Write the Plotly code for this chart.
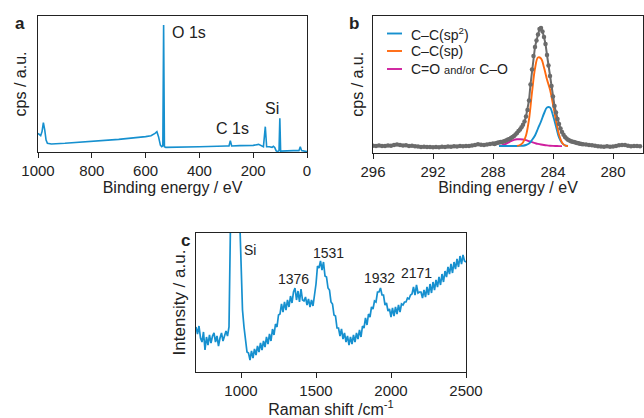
import plotly.graph_objects as go

W, H = 644, 418
FONT = "Liberation Sans, Arial, sans-serif"

# ---------------- Panel a: XPS survey ----------------
survey_be = [1000, 995, 990, 985, 980, 975, 970, 965, 950, 900, 800, 700, 600, 580, 565, 558, 552,
             545, 540, 536, 533, 530, 525, 500, 400, 300, 290, 285, 280, 250, 200, 180, 170, 162,
             155, 150, 140, 130, 125, 120, 115, 110, 104, 101, 98, 80, 50, 30, 25, 20, 10, 0]
survey_cps = [13.7, 12.5, 12.0, 15.0, 21.6, 16.2, 8.8, 6.4, 5.9, 6.4, 7.6, 9.3, 11.3, 12.0, 13.7, 14.9, 11.3,
              5.1, 3.9, 4.5, 93.4, 3.9, 3.4, 3.4, 3.9, 4.4, 4.4, 8.3, 4.4, 4.7, 4.9, 5.6, 4.9, 3.9,
              18.6, 3.9, 3.9, 3.4, 4.2, 3.4, 1.0, 0.2, 1.0, 24.8, 0.7, 1.0, 1.0, 1.0, 3.9, 1.0, 0.5, 0.3]
survey_labels = ["O 1s", "C 1s", "Si"]
survey_label_x = [509, 277, 131]
survey_label_y = [87.5, 17.4, 32.1]

# ---------------- Panel b: C 1s ----------------
c1s_be = [296.0, 295.8, 295.6, 295.4, 295.2, 295.0, 294.8, 294.6, 294.4, 294.2, 294.0, 293.8, 293.6,
          293.4, 293.2, 293.0, 292.8, 292.6, 292.4, 292.2, 292.0, 291.8, 291.6, 291.4, 291.2, 291.0,
          290.8, 290.6, 290.4, 290.2, 290.0, 289.8, 289.6, 289.4, 289.2, 289.0, 288.8, 288.6, 288.4,
          288.2,
          288.0, 287.9, 287.8, 287.7, 287.6, 287.5, 287.4, 287.3, 287.2, 287.1, 287.0, 286.9, 286.8,
          286.7, 286.6, 286.5, 286.4, 286.3, 286.2, 286.1, 286.0, 285.9, 285.8, 285.7, 285.6, 285.5,
          285.4, 285.3, 285.2, 285.1, 285.0, 284.9, 284.8, 284.7, 284.6, 284.5, 284.4, 284.3, 284.2,
          284.1, 284.0, 283.9, 283.8, 283.7, 283.6, 283.5, 283.4, 283.3, 283.2, 283.1, 283.0, 282.9,
          282.8, 282.7, 282.6, 282.5, 282.4, 282.3, 282.2, 282.1, 282.0,
          281.8, 281.6, 281.4, 281.2, 281.0, 280.8, 280.6, 280.4, 280.2, 280.0, 279.8, 279.6, 279.4,
          279.2, 279.0, 278.8, 278.6, 278.4, 278.2]
c1s_cps = [6.8, 6.5, 6.9, 6.4, 6.6, 7.0, 6.8, 7.4, 8.0, 7.6, 7.0, 7.2, 6.6,
           6.8, 6.2, 6.0, 5.6, 5.8, 5.4, 5.6, 5.2, 5.5, 5.3, 5.7, 5.5, 5.9,
           5.7, 6.2, 6.0, 6.4, 6.3, 6.6, 6.5, 7.0, 7.4, 8.2, 7.8, 7.4, 8.0,
           8.4,
           9.0, 8.6, 9.2, 9.8, 10.0, 10.4, 10.6, 11.0, 11.6, 12.2, 12.9, 13.6, 14.4,
           15.4, 16.6, 18.0, 19.6, 21.4, 23.0, 25.2, 27.8, 31.0, 36.0, 42.5, 52.0, 68.0,
           83.0, 96.5, 105.5, 112.0, 118.0, 123.5, 124.5, 121.0, 115.5, 108.5, 97.5, 87.0, 76.5,
           66.5, 56.0, 46.5, 40.0, 33.5, 28.5, 24.0, 20.5, 17.8, 15.5, 14.0, 12.8, 12.0,
           11.3, 10.8, 10.5, 10.0, 9.5, 9.2, 8.8, 8.5, 8.3,
           8.0, 7.6, 7.2, 6.8, 6.2, 6.0, 5.8, 6.2, 5.7, 6.0, 6.6, 7.2, 7.6,
           7.4, 6.8, 6.3, 6.6, 6.4, 6.2]

fit_be = [287.6, 287.4, 287.2, 287.0, 286.8, 286.6, 286.4, 286.2, 286.0, 285.8, 285.6, 285.4,
          285.2, 285.0, 284.8, 284.6, 284.4, 284.2, 284.0, 283.8, 283.6, 283.4, 283.2, 283.0]
sp2_cps = [6.5, 6.5, 6.5, 6.5, 6.5, 6.5, 6.5, 6.6, 6.8, 7.5, 9.0, 12.5,
           17.0, 24.0, 31.0, 39.0, 45.0, 45.0, 37.0, 26.0, 15.0, 9.5, 7.2, 6.5]
sp_cps = [None, None, None, None, None, None, 6.6, 7.5, 10.0, 17.0, 33.0, 60.0,
          84.0, 95.0, 94.0, 85.0, 73.0, 63.0, 48.0, 32.0, 18.0, 10.0, 7.0, 6.5]
co_cps = [6.6, 7.2, 8.3, 9.8, 11.4, 12.6, 13.2, 13.3, 13.0, 12.3, 11.3, 10.3,
          9.4, 8.6, 8.0, 7.5, 7.1, 6.8, 6.6, 6.5, 6.4, 6.4, None, None]
fit_names = ["C\u2013C(sp<sup>2</sup>)", "C\u2013C(sp)",
             "C=O <span style='font-size:11px'>and/or</span> C\u2013O"]

# ---------------- Panel c: Raman ----------------
raman_shift = list(range(700, 2501, 10))
raman_int = [45, 38, 46, 34, 30, 40, 22, 35, 27, 37,
             29, 36, 39, 30, 36, 26, 34, 39, 31, 37,
             41, 36, 45, 150, 300, 330, 340, 320, 260, 160,
             100, 62, 45, 30, 20, 19, 12, 21, 14, 23,
             17, 26, 20, 29, 22, 31, 25, 35, 28, 38,
             31, 43, 37, 48, 45, 57, 58, 68, 60, 70,
             62, 72, 65, 76, 69, 80, 84, 72, 81, 70,
             83, 72, 71, 75, 67, 73, 65, 72, 66, 77,
             88, 106, 104, 111, 102, 110, 96, 95, 84, 82,
             70, 68, 57, 56, 44, 44, 36, 43, 33, 39,
             30, 36, 27, 35, 28, 37, 30, 39, 33, 42,
             35, 46, 44, 54, 47, 58, 55, 65, 63, 71,
             70, 80, 80, 84, 77, 77, 67, 69, 61, 63,
             55, 64, 56, 65, 58, 67, 60, 68, 67, 70,
             70, 74, 73, 77, 78, 85, 77, 87, 79, 80,
             80, 74, 82, 75, 85, 77, 88, 79, 90, 82,
             92, 85, 95, 87, 98, 90, 101, 95, 105, 98,
             108, 99, 110, 103, 113, 105, 116, 108, 117, 111,
             110]
raman_labels = ["Si", "1376", "1531", "1932", "2171"]
raman_label_x = [1060, 1349, 1582, 1922, 2167]
raman_label_y = [122, 93, 119, 94, 99]

BLUE = "#1690cf"
ORANGE = "#ff6a10"
MAGENTA = "#cf1f9e"
GREY = "#6b6b6b"


def px_x(p):
    return p / W


def px_y(p):
    return 1 - p / H


fig = go.Figure()

fig.add_trace(go.Scatter(x=survey_be, y=survey_cps, mode="lines", xaxis="x", yaxis="y",
                         line=dict(color=BLUE, width=1.6), showlegend=False))

fig.add_trace(go.Scatter(x=fit_be, y=co_cps, mode="lines", xaxis="x2", yaxis="y2",
                         line=dict(color=MAGENTA, width=1.9, shape="spline"), name=fit_names[2],
                         showlegend=False))
fig.add_trace(go.Scatter(x=fit_be, y=sp2_cps, mode="lines", xaxis="x2", yaxis="y2",
                         line=dict(color=BLUE, width=1.9, shape="spline"), name=fit_names[0],
                         showlegend=False))
fig.add_trace(go.Scatter(x=fit_be, y=sp_cps, mode="lines", xaxis="x2", yaxis="y2",
                         line=dict(color=ORANGE, width=1.9, shape="spline"), name=fit_names[1],
                         showlegend=False))
fig.add_trace(go.Scatter(x=c1s_be, y=c1s_cps, mode="lines+markers", xaxis="x2", yaxis="y2",
                         line=dict(color=GREY, width=2),
                         marker=dict(color=GREY, size=4.5), showlegend=False))

fig.add_trace(go.Scatter(x=raman_shift, y=raman_int, mode="lines", xaxis="x3", yaxis="y3",
                         line=dict(color=BLUE, width=1.7), showlegend=False))

axis_common = dict(showline=True, mirror=True, linecolor="#222", linewidth=1,
                   showgrid=False, zeroline=False, automargin=False)
xfont = dict(family=FONT, size=15, color="#222")
tfont = dict(family=FONT, size=16, color="#222")

fig.update_layout(
    width=W, height=H, margin=dict(l=0, r=0, t=0, b=0, pad=0, autoexpand=False),
    paper_bgcolor="white", plot_bgcolor="white", showlegend=False,
    font=dict(family=FONT, color="#222"),
    xaxis=dict(domain=[px_x(38), px_x(307)], range=[1000, 0], anchor="y",
               ticks="outside", ticklen=5, tickcolor="#222", tickvals=[1000, 800, 600, 400, 200, 0],
               tickfont=xfont, title=dict(text="Binding energy / eV", font=tfont, standoff=2),
               **axis_common),
    yaxis=dict(domain=[px_y(152), px_y(16)], range=[0, 100], anchor="x",
               showticklabels=False, ticks="",
               title=dict(text="cps / a.u.", font=tfont, standoff=6), **axis_common),
    xaxis2=dict(domain=[px_x(373), px_x(643)], range=[296, 278], anchor="y2",
                ticks="outside", ticklen=5, tickcolor="#222", tickvals=[296, 292, 288, 284, 280],
                tickfont=xfont, title=dict(text="Binding energy / eV", font=tfont, standoff=2),
                **axis_common),
    yaxis2=dict(domain=[px_y(152.5), px_y(16)], range=[0, 136.5], anchor="x2",
                showticklabels=False, ticks="",
                title=dict(text="cps / a.u.", font=tfont, standoff=4), **axis_common),
    xaxis3=dict(domain=[px_x(196), px_x(466)], range=[700, 2500], anchor="y3",
                ticks="outside", ticklen=5, tickcolor="#222", tickvals=[1000, 1500, 2000, 2500],
                tickfont=xfont,
                title=dict(text="Raman shift /cm<sup>-1</sup>", font=tfont, standoff=2),
                **axis_common),
    yaxis3=dict(domain=[px_y(372), px_y(233)], range=[0, 139], anchor="x3",
                showticklabels=False, ticks="",
                title=dict(text="Intensity / a.u.", font=dict(family=FONT, size=17, color="#222"),
                           standoff=5), **axis_common),
)

annotations = []
for t, x, y in zip(survey_labels, survey_label_x, survey_label_y):
    annotations.append(dict(text=t, x=x, y=y, xref="x", yref="y", showarrow=False,
                            font=dict(family=FONT, size=16, color="#222"),
                            xanchor="left" if t == "O 1s" else "center", yanchor="middle"))
for t, x, y in zip(raman_labels, raman_label_x, raman_label_y):
    annotations.append(dict(text=t, x=x, y=y, xref="x3", yref="y3", showarrow=False,
                            font=dict(family=FONT, size=14, color="#222"),
                            xanchor="center", yanchor="middle"))
for t, x, y in [("a", 20, 24), ("b", 354, 24), ("c", 185, 241)]:
    annotations.append(dict(text="<b>%s</b>" % t, x=px_x(x), y=px_y(y), xref="paper", yref="paper",
                            showarrow=False, font=dict(family=FONT, size=17, color="#222"),
                            xanchor="center", yanchor="middle"))

# manual legend for panel b
shapes = []
leg_rows = [33.5, 51, 69]
leg_colors = [BLUE, ORANGE, MAGENTA]
for name, col, yy in zip(fit_names, leg_colors, leg_rows):
    shapes.append(dict(type="line", xref="paper", yref="paper", x0=px_x(387), x1=px_x(402),
                       y0=px_y(yy), y1=px_y(yy), line=dict(color=col, width=1.9)))
    annotations.append(dict(text=name, x=px_x(409), y=px_y(yy), xref="paper", yref="paper",
                            showarrow=False, font=dict(family=FONT, size=14, color="#222"),
                            xanchor="left", yanchor="middle"))

fig.update_layout(annotations=annotations, shapes=shapes)
fig.write_html("out.html", config={"displayModeBar": False},
               post_script="document.body.style.margin='0px';")
